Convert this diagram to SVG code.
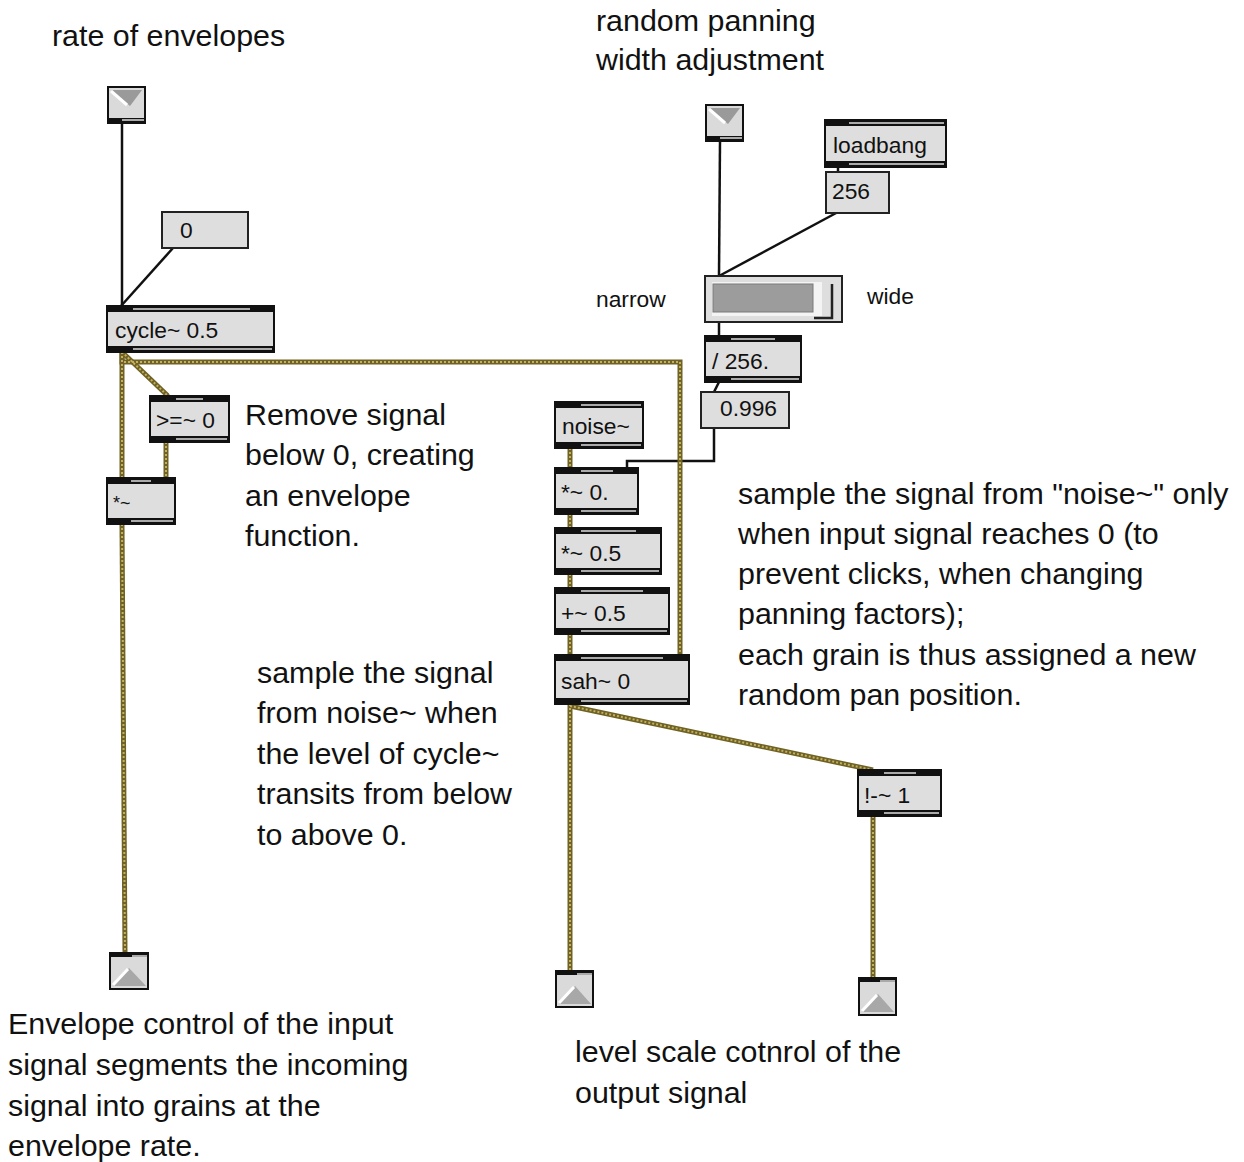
<svg xmlns="http://www.w3.org/2000/svg" width="1244" height="1162" viewBox="0 0 1244 1162">
<style>
text{font-family:"Liberation Sans",Arial,sans-serif;fill:#111}
.big{font-size:30.4px}
.box{font-size:22.8px}
.obj{fill:#dedede;stroke:#111;stroke-width:2}
.msg{fill:#dedede;stroke:#222;stroke-width:2}
.bar{fill:#111}
.barg{fill:#aaa}
.ctl{fill:none;stroke:#111;stroke-width:2.5}
.sig{fill:none;stroke:#6f6224;stroke-width:5}
.sigd{fill:none;stroke:#c0b060;stroke-width:2;stroke-dasharray:2 2}
.io{fill:#dadada;stroke:#111;stroke-width:2}
</style>
<rect width="1244" height="1162" fill="#fff"/>

<g id="connectors">
  <path class="ctl" d="M122,123 L122,306"/>
  <path class="ctl" d="M173,248 L121,306"/>
  <path class="ctl" d="M720,141 L719,276"/>
  <path class="ctl" d="M838,212 L719,276"/>
  <path class="ctl" d="M838,167 L838,172"/>
  <path class="ctl" d="M719,322 L719,336"/>
  <path class="ctl" d="M719,382 L714,392"/>
  <path class="ctl" d="M714,428 L714,461 L627,461 L627,468"/>
  <g>
    <path class="sig" d="M122,352 L122,478"/>
    <path class="sig" d="M122,352 L168,396"/>
    <path class="sig" d="M122,352 L122,362 L680,362 L680,655"/>
    <path class="sig" d="M166,442 L166,478"/>
    <path class="sig" d="M122,524 L125,953"/>
    <path class="sig" d="M570,448 L570,468"/>
    <path class="sig" d="M570,514 L570,528"/>
    <path class="sig" d="M570,574 L570,588"/>
    <path class="sig" d="M570,634 L570,655"/>
    <path class="sig" d="M570,704 L570,971"/>
    <path class="sig" d="M570,706 L873,770"/>
    <path class="sig" d="M873,816 L873,978"/>
  </g>
  <g>
    <path class="sigd" d="M122,352 L122,478"/>
    <path class="sigd" d="M122,352 L168,396"/>
    <path class="sigd" d="M122,352 L122,362 L680,362 L680,655"/>
    <path class="sigd" d="M166,442 L166,478"/>
    <path class="sigd" d="M122,524 L125,953"/>
    <path class="sigd" d="M570,448 L570,468"/>
    <path class="sigd" d="M570,514 L570,528"/>
    <path class="sigd" d="M570,574 L570,588"/>
    <path class="sigd" d="M570,634 L570,655"/>
    <path class="sigd" d="M570,704 L570,971"/>
    <path class="sigd" d="M570,706 L873,770"/>
    <path class="sigd" d="M873,816 L873,978"/>
  </g>
</g>

<!-- inlets -->
<g id="inlet1">
  <rect class="io" x="108" y="87" width="37" height="36"/>
  <polygon points="111,90 142,90 130,106" fill="#9a9a9a"/>
  <line x1="111" y1="91" x2="127" y2="105" stroke="#fff" stroke-width="3"/>
  <rect class="bar" x="107" y="118" width="39" height="5"/>
  <rect class="barg" x="122" y="119" width="22" height="2"/>
</g>
<g id="inlet2">
  <rect class="io" x="706" y="105" width="37" height="36"/>
  <polygon points="709,108 740,108 728,124" fill="#9a9a9a"/>
  <line x1="709" y1="109" x2="725" y2="123" stroke="#fff" stroke-width="3"/>
  <rect class="bar" x="705" y="136" width="39" height="5"/>
  <rect class="barg" x="720" y="137" width="22" height="2"/>
</g>

<!-- outlets -->
<g id="outlet-left">
  <rect class="io" x="110" y="953" width="38" height="36"/>
  <rect class="bar" x="109" y="952" width="40" height="5"/>
  <rect class="barg" x="132" y="955" width="15" height="2"/>
  <polygon points="113,986 129,968 146,986" fill="#a8a8a8"/>
  <line x1="113" y1="985" x2="128" y2="969" stroke="#fff" stroke-width="3"/>
</g>
<g id="outlet-mid">
  <rect class="io" x="556" y="971" width="37" height="36"/>
  <rect class="bar" x="555" y="970" width="39" height="5"/>
  <rect class="barg" x="577" y="973" width="15" height="2"/>
  <polygon points="559,1004 575,986 591,1004" fill="#a8a8a8"/>
  <line x1="559" y1="1003" x2="574" y2="987" stroke="#fff" stroke-width="3"/>
</g>
<g id="outlet-right">
  <rect class="io" x="859" y="978" width="37" height="37"/>
  <rect class="bar" x="858" y="977" width="39" height="5"/>
  <rect class="barg" x="880" y="980" width="15" height="2"/>
  <polygon points="862,1012 878,994 894,1012" fill="#a8a8a8"/>
  <line x1="862" y1="1011" x2="877" y2="995" stroke="#fff" stroke-width="3"/>
</g>

<!-- number / message boxes -->
<g id="num0">
  <rect class="msg" x="162" y="212" width="86" height="36"/>
  <text class="box" x="180" y="238">0</text>
</g>
<g id="msg256">
  <rect class="msg" x="826" y="172" width="63" height="41"/>
  <text class="box" x="832" y="199">256</text>
</g>
<g id="num0996">
  <rect class="msg" x="701" y="392" width="88" height="36"/>
  <text class="box" x="720" y="416">0.996</text>
</g>

<!-- slider -->
<g id="slider">
  <rect class="msg" x="705" y="276" width="137" height="46"/>
  <rect x="712" y="282" width="110" height="34" fill="#f4f4f4"/>
  <rect x="713" y="284" width="100" height="28" fill="#9c9c9c" stroke="#7a7a7a" stroke-width="1"/>
  <path d="M832,284 L832,318 L814,318" fill="none" stroke="#222" stroke-width="2.5"/>
</g>

<!-- objects -->
<g id="cycle">
  <rect class="obj" x="107" y="306" width="167" height="46"/>
  <rect class="bar" x="107" y="306" width="167" height="6"/>
  <rect class="barg" x="133" y="308" width="117" height="2"/>
  <rect class="bar" x="107" y="346" width="167" height="6"/>
  <rect class="barg" x="133" y="348" width="139" height="2"/>
  <text class="box" x="115" y="338">cycle~ 0.5</text>
</g>
<g id="gte">
  <rect class="obj" x="150" y="396" width="79" height="46"/>
  <rect class="bar" x="150" y="396" width="79" height="6"/>
  <rect class="barg" x="176" y="398" width="27" height="2"/>
  <rect class="bar" x="150" y="436" width="79" height="6"/>
  <rect class="barg" x="176" y="438" width="51" height="2"/>
  <text class="box" x="156" y="428">&gt;=~ 0</text>
</g>
<g id="mul">
  <rect class="obj" x="107" y="478" width="68" height="46"/>
  <rect class="bar" x="107" y="478" width="68" height="6"/>
  <rect class="barg" x="131" y="480" width="20" height="2"/>
  <rect class="bar" x="107" y="518" width="68" height="6"/>
  <rect class="barg" x="131" y="520" width="42" height="2"/>
  <text class="box" x="113" y="509" style="font-size:18px">*~</text>
</g>
<g id="loadbang">
  <rect class="obj" x="825" y="120" width="121" height="47"/>
  <rect class="bar" x="825" y="120" width="121" height="6"/>
  <rect class="barg" x="849" y="122" width="95" height="2"/>
  <rect class="bar" x="825" y="161" width="121" height="6"/>
  <rect class="barg" x="849" y="163" width="95" height="2"/>
  <text class="box" x="833" y="153">loadbang</text>
</g>
<g id="div256">
  <rect class="obj" x="705" y="336" width="96" height="46"/>
  <rect class="bar" x="705" y="336" width="96" height="6"/>
  <rect class="barg" x="731" y="338" width="44" height="2"/>
  <rect class="bar" x="705" y="376" width="96" height="6"/>
  <rect class="barg" x="731" y="378" width="68" height="2"/>
  <text class="box" x="712" y="369">/ 256.</text>
</g>
<g id="noise">
  <rect class="obj" x="555" y="402" width="88" height="46"/>
  <rect class="bar" x="555" y="402" width="88" height="6"/>
  <rect class="barg" x="581" y="404" width="60" height="2"/>
  <rect class="bar" x="555" y="442" width="88" height="6"/>
  <rect class="barg" x="581" y="444" width="60" height="2"/>
  <text class="box" x="562" y="434">noise~</text>
</g>
<g id="mul0">
  <rect class="obj" x="555" y="468" width="83" height="46"/>
  <rect class="bar" x="555" y="468" width="83" height="6"/>
  <rect class="barg" x="581" y="470" width="32" height="2"/>
  <rect class="bar" x="555" y="508" width="83" height="6"/>
  <rect class="barg" x="581" y="510" width="55" height="2"/>
  <text class="box" x="561" y="500">*~ 0.</text>
</g>
<g id="mul05">
  <rect class="obj" x="555" y="528" width="106" height="46"/>
  <rect class="bar" x="555" y="528" width="106" height="6"/>
  <rect class="barg" x="581" y="530" width="55" height="2"/>
  <rect class="bar" x="555" y="568" width="106" height="6"/>
  <rect class="barg" x="581" y="570" width="78" height="2"/>
  <text class="box" x="561" y="561">*~ 0.5</text>
</g>
<g id="add05">
  <rect class="obj" x="555" y="588" width="114" height="46"/>
  <rect class="bar" x="555" y="588" width="114" height="6"/>
  <rect class="barg" x="581" y="590" width="62" height="2"/>
  <rect class="bar" x="555" y="628" width="114" height="6"/>
  <rect class="barg" x="581" y="630" width="86" height="2"/>
  <text class="box" x="561" y="621">+~ 0.5</text>
</g>
<g id="sah">
  <rect class="obj" x="555" y="655" width="134" height="49"/>
  <rect class="bar" x="555" y="655" width="134" height="6"/>
  <rect class="barg" x="581" y="657" width="82" height="2"/>
  <rect class="bar" x="555" y="698" width="134" height="6"/>
  <rect class="barg" x="581" y="700" width="106" height="2"/>
  <text class="box" x="561" y="689">sah~ 0</text>
</g>
<g id="rminus">
  <rect class="obj" x="858" y="770" width="83" height="46"/>
  <rect class="bar" x="858" y="770" width="83" height="6"/>
  <rect class="barg" x="884" y="772" width="32" height="2"/>
  <rect class="bar" x="858" y="810" width="83" height="6"/>
  <rect class="barg" x="884" y="812" width="55" height="2"/>
  <text class="box" x="864" y="803">!-~ 1</text>
</g>

<!-- comments -->
<g id="comments">
  <text class="big" x="52" y="46">rate of envelopes</text>
  <text class="big" x="596" y="31">random panning</text>
  <text class="big" x="596" y="70">width adjustment</text>
  <text class="box" x="596" y="307">narrow</text>
  <text class="box" x="867" y="304">wide</text>
  <text class="big" x="245" y="425">Remove signal</text>
  <text class="big" x="245" y="465">below 0, creating</text>
  <text class="big" x="245" y="506">an envelope</text>
  <text class="big" x="245" y="546">function.</text>
  <text class="big" x="738" y="504">sample the signal from "noise~" only</text>
  <text class="big" x="738" y="544">when input signal reaches 0 (to</text>
  <text class="big" x="738" y="584">prevent clicks, when changing</text>
  <text class="big" x="738" y="624">panning factors);</text>
  <text class="big" x="738" y="665">each grain is thus assigned a new</text>
  <text class="big" x="738" y="705">random pan position.</text>
  <text class="big" x="257" y="683">sample the signal</text>
  <text class="big" x="257" y="723">from noise~ when</text>
  <text class="big" x="257" y="764">the level of cycle~</text>
  <text class="big" x="257" y="804">transits from below</text>
  <text class="big" x="257" y="845">to above 0.</text>
  <text class="big" x="8" y="1034">Envelope control of the input</text>
  <text class="big" x="8" y="1075">signal segments the incoming</text>
  <text class="big" x="8" y="1116">signal into grains at the</text>
  <text class="big" x="8" y="1156">envelope rate.</text>
  <text class="big" x="575" y="1062">level scale cotnrol of the</text>
  <text class="big" x="575" y="1103">output signal</text>
</g>
</svg>
